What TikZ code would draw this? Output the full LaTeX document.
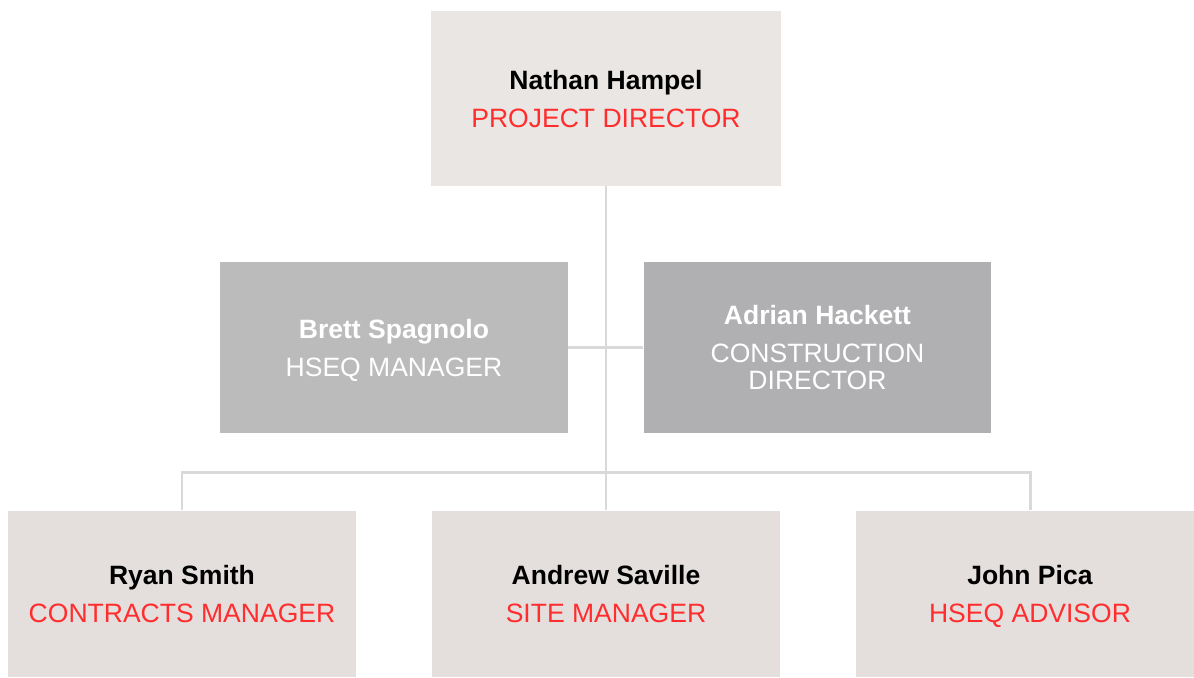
\documentclass[tikz,border=0pt]{standalone}
\usepackage{fontspec}
\setmainfont{Liberation Sans}
\definecolor{topfill}{HTML}{EAE6E3}
\definecolor{lowfill}{HTML}{E4DFDD}
\definecolor{midfillA}{HTML}{BBBBBB}
\definecolor{midfillB}{HTML}{B0B0B2}
\definecolor{titlered}{HTML}{FF2D2D}
\definecolor{linkgray}{HTML}{D9D9D9}
\begin{document}
\begin{tikzpicture}[x=0.02cm, y=-0.02cm,
  person/.style={minimum width=6.96cm, minimum height=3.42cm, inner sep=0pt, align=center,
    font=\fontsize{15.1}{15.6}\selectfont},
  link/.style={draw=linkgray, line width=1.7pt}]
\useasboundingbox (0,0) rectangle (1194,677);
% top
\node[person, fill=topfill, minimum width=7cm, minimum height=3.5cm] (hampel) at (606,98.5)
  {\strut\textbf{Nathan Hampel}\\[6pt] \smash{\color{titlered}PROJECT DIRECTOR}\vphantom{A}};
% middle row
\node[person, fill=midfillA, text=white] (spagnolo) at (394,347.5)
  {\strut\textbf{Brett Spagnolo}\\[6pt] \smash{HSEQ MANAGER}\vphantom{A}};
\node[person, fill=midfillB, text=white] (hackett) at (817.5,347.5)
  {\strut\textbf{Adrian Hackett}\\[6pt] CONSTRUCTION\\ \smash{DIRECTOR}\vphantom{A}};
% bottom row
\node[person, fill=lowfill, minimum height=3.34cm] (smith) at (182,594)
  {\strut\textbf{Ryan Smith}\\[6pt] \smash{\color{titlered}CONTRACTS MANAGER}\vphantom{A}};
\node[person, fill=lowfill, minimum height=3.34cm] (saville) at (606,594)
  {\strut\textbf{Andrew Saville}\\[6pt] \smash{\color{titlered}SITE MANAGER}\vphantom{A}};
\node[person, fill=lowfill, minimum height=3.34cm] (pica) at (1030,594)
  {\strut\textbf{John Pica}\\[6pt] \smash{\color{titlered}HSEQ ADVISOR}\vphantom{A}};
\coordinate (bus) at (606,472);
% links
\draw[link] (hampel.south) -- (saville.north);
\draw[link] (spagnolo.east) -- (hackett.west);
\draw[link] (smith.north) |- (bus) -| (pica.north);
\end{tikzpicture}
\end{document}
